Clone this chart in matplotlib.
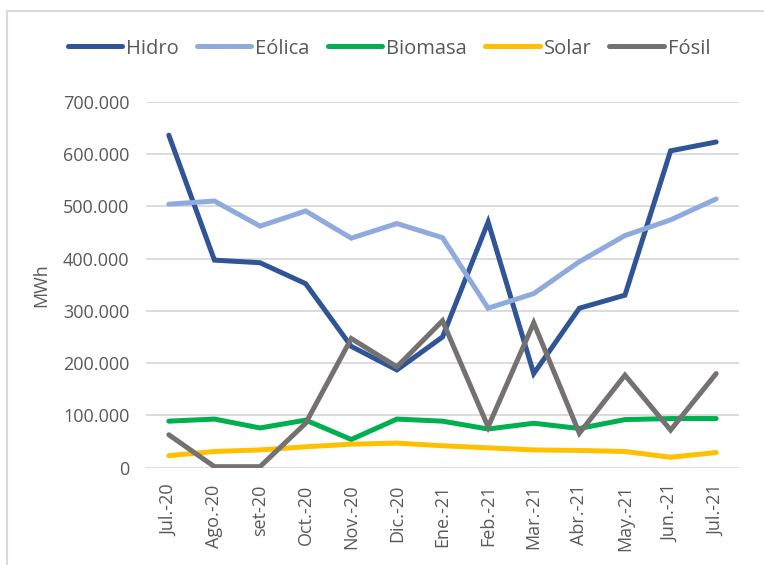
import matplotlib
matplotlib.use("Agg")
import matplotlib.pyplot as plt
from matplotlib.ticker import FuncFormatter, MultipleLocator
from matplotlib.lines import Line2D

months = ["Jul.-20", "Ago.-20", "set-20", "Oct.-20", "Nov.-20", "Dic.-20", "Ene.-21",
          "Feb.-21", "Mar.-21", "Abr.-21", "May.-21", "Jun.-21", "Jul.-21"]
hidro = [636000, 397000, 392000, 352000, 232000, 187000, 250000, 470000, 180000, 305000, 330000, 606000, 623000]
eolica = [504000, 510000, 462000, 491000, 439000, 467000, 440000, 305000, 333000, 394000, 444000, 474000, 514000]
biomasa = [89000, 93000, 76000, 91000, 54000, 93000, 89000, 74000, 85000, 75000, 92000, 94000, 94000]
solar = [23000, 31000, 34000, 40000, 45000, 47000, 42000, 38000, 34000, 33000, 31000, 20000, 29000]
fosil = [63000, 2000, 2000, 85000, 247000, 193000, 281000, 78000, 277000, 66000, 177000, 72000, 180000]

series = [("Hidro", hidro, "#2f5597"), ("Eólica", eolica, "#8faadc"),
          ("Biomasa", biomasa, "#00b050"), ("Solar", solar, "#ffc000"),
          ("Fósil", fosil, "#767171")]

plt.rcParams['font.family'] = ['Open Sans', 'DejaVu Sans']
txt = "#595959"

fig = plt.figure(figsize=(7.64, 5.65), dpi=100)
ax = fig.add_axes([146/764, 1-467.7/565, (739-146)/764, (467.7-101.7)/565])

x = list(range(len(months)))
for name, vals, col in series:
    ax.plot(x, vals, color=col, lw=3.6, solid_capstyle='round', solid_joinstyle='miter', label=name, zorder=3)

ax.set_xlim(-0.5, len(months) - 0.5)
ax.set_ylim(0, 700000)
ax.yaxis.set_major_locator(MultipleLocator(100000))
ax.yaxis.set_major_formatter(FuncFormatter(lambda v, p: f"{v:,.0f}".replace(",", ".")))
ax.grid(axis='y', color="#d9d9d9", lw=1.3, zorder=0)
for s in ax.spines.values():
    s.set_visible(False)
ax.tick_params(axis='both', length=0, colors=txt, labelsize=13)
ax.tick_params(axis='y', pad=12)
ax.tick_params(axis='x', pad=12)
ax.set_xticks(x)
ax.set_xticklabels(months, rotation=90)
ax.set_ylabel("MWh", color=txt, fontsize=13)
ax.yaxis.set_label_coords(-0.162, 0.5)

handles = [Line2D([0], [0], color=c, lw=3.6, solid_capstyle='round') for _, _, c in series]
leg = fig.legend(handles, [n for n, _, _ in series], loc='center', bbox_to_anchor=(389/764, 1-48.5/565),
                 ncol=5, frameon=False, fontsize=14.5, handlelength=2.7, handletextpad=0.2,
                 columnspacing=0.9, labelcolor=txt)

# chart border (top and left visible)
fig.add_artist(Line2D([6.5/764, 6.5/764], [0, 1-11/565], color="#d9d9d9", lw=1.5, transform=fig.transFigure))
fig.add_artist(Line2D([6.5/764, 1], [1-11/565, 1-11/565], color="#d9d9d9", lw=1.5, transform=fig.transFigure))

fig.savefig("out.png", dpi=100)
